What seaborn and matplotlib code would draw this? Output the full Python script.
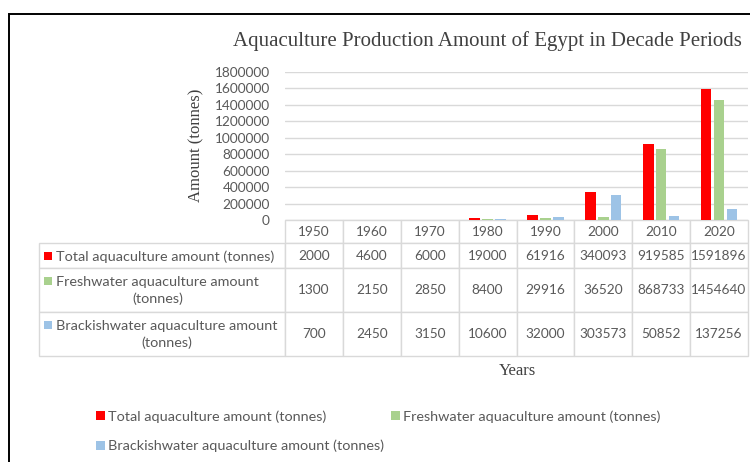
import matplotlib
matplotlib.use("Agg")
import matplotlib.pyplot as plt
from matplotlib.patches import Rectangle
from matplotlib.ticker import FuncFormatter
import seaborn as sns
import pandas as pd

# ---------------- data ----------------
years = ["1950", "1960", "1970", "1980", "1990", "2000", "2010", "2020"]
series_names = [
    "Total aquaculture amount (tonnes)",
    "Freshwater aquaculture amount (tonnes)",
    "Brackishwater aquaculture amount (tonnes)",
]
total = [2000, 4600, 6000, 19000, 61916, 340093, 919585, 1591896]
fresh = [1300, 2150, 2850, 8400, 29916, 36520, 868733, 1454640]
brackish = [700, 2450, 3150, 10600, 32000, 303573, 50852, 137256]
colors = ["#FF0000", "#A9D18E", "#9DC3E6"]
ytick_vals = [0, 200000, 400000, 600000, 800000, 1000000, 1200000, 1400000, 1600000, 1800000]

title = "Aquaculture Production Amount of Egypt in Decade Periods"
ylabel = "Amount (tonnes)"
xlabel = "Years"

values = [total, fresh, brackish]
df = pd.DataFrame(
    [(y, s, v) for s, vals in zip(series_names, values) for y, v in zip(years, vals)],
    columns=["Year", "Series", "Amount"],
)

# ---------------- style ----------------
sns.set_style("white")
plt.rcParams["font.family"] = ["Lato", "DejaVu Sans"]
GRAY = "#595959"
DARK = "#404040"
SERIF = ["Liberation Serif", "DejaVu Serif"]
FS = 9.8      # numbers
FST = 10.4    # words
EDGE = "#d9d9d9"

W, H = 750, 462
fig = plt.figure(figsize=(W / 100, H / 100), dpi=100)
AX_L, AX_R, AX_T, AX_B = 285, 748, 72, 220
ax = fig.add_axes([AX_L / W, 1 - AX_B / H, (AX_R - AX_L) / W, (AX_B - AX_T) / H])


def px_x(x):
    return (x - AX_L) / (AX_R - AX_L)


def px_y(y):
    return (AX_B - y) / (AX_B - AX_T)


sns.barplot(
    data=df, x="Year", y="Amount", hue="Series", order=years,
    hue_order=series_names, palette=colors, saturation=1,
    width=0.667, gap=0.19, linewidth=0, ax=ax,
)
handles, labels = ax.get_legend_handles_labels()
if ax.get_legend() is not None:
    ax.get_legend().remove()

ax.set_ylim(0, 1800000)
ax.set_xlim(-0.5, len(years) - 0.5)
ax.set_yticks(ytick_vals)
ax.yaxis.set_major_formatter(FuncFormatter(lambda v, p: f"{v:.0f}"))
ax.tick_params(axis="y", length=0, pad=10.8, labelsize=FS, labelcolor=GRAY)
ax.tick_params(axis="x", length=0, labelbottom=False)
ax.set_xlabel("")
ax.set_ylabel(ylabel, fontsize=12, family=SERIF, color=DARK)
ax.yaxis.set_label_coords(px_x(204), px_y(145.5))
ax.yaxis.grid(True, color=EDGE, lw=1)
ax.set_axisbelow(True)
for sp in ax.spines.values():
    sp.set_visible(False)

# ---------------- data table ----------------
# first column holds the row-label cells; its text is drawn separately below
cell_text = [[""] + [str(v) for v in vals] for vals in values]
tbl = ax.table(
    cellText=cell_text, colLabels=[""] + years, cellLoc="center",
    loc="bottom",
    bbox=[px_x(39), px_y(356), px_x(748) - px_x(39), px_y(220) - px_y(356)],
)
tbl.auto_set_font_size(False)
tbl.set_fontsize(FS)
row_heights = {0: 23, 1: 25, 2: 43, 3: 44}
for (r, c), cell in tbl.get_celld().items():
    cell.set_edgecolor(EDGE)
    cell.set_linewidth(1)
    cell.set_height(row_heights[r])
    cell.set_width(246 if c == 0 else 57.875)
    cell.get_text().set_color(GRAY)
    cell.get_text().set_fontfamily(["Lato", "DejaVu Sans"])
    if r == 0 and c == 0:
        cell.visible_edges = "open"

row_centers = [256.5, 290.5, 334.5]
square_centers = [256, 281, 325]
for i, name in enumerate(series_names):
    lab = name if i == 0 else name.replace(" (tonnes)", "\n(tonnes)")
    ax.text(px_x(56), px_y(row_centers[i]), lab, transform=ax.transAxes,
            ha="left", va="center", multialignment="center", fontsize=FST,
            color=GRAY, linespacing=1.45, clip_on=False, zorder=5)
    ax.add_patch(Rectangle((px_x(44), px_y(square_centers[i] + 4)),
                           px_x(52) - px_x(44), px_y(square_centers[i] - 4) - px_y(square_centers[i] + 4),
                           transform=ax.transAxes, facecolor=colors[i],
                           edgecolor="none", clip_on=False, zorder=5))

# ---------------- titles ----------------
fig.text(487.5 / W, 1 - 46 / H, title, ha="center", va="baseline",
         fontsize=15, family=SERIF, color=DARK)
fig.text(517 / W, 1 - 375 / H, xlabel, ha="center", va="baseline",
         fontsize=12, family=SERIF, color=DARK)

# ---------------- legend ----------------
order = [0, 2, 1]
leg = fig.legend(
    [handles[i] for i in order], [labels[i] for i in order],
    loc="upper left", bbox_to_anchor=(96 / W, 1 - 410 / H), ncol=2,
    frameon=False, fontsize=FST, labelcolor=GRAY, borderpad=0,
    borderaxespad=0, handlelength=0.6, handleheight=0.58,
    handletextpad=0.22, columnspacing=0.5, labelspacing=1.2,
)

# outer border
fig.add_artist(Rectangle((8.5 / W, -0.05), 1.2, 1.05 - 14 / H,
                         transform=fig.transFigure, fill=False,
                         edgecolor="black", lw=1.4))

fig.savefig("out.png", dpi=100)
